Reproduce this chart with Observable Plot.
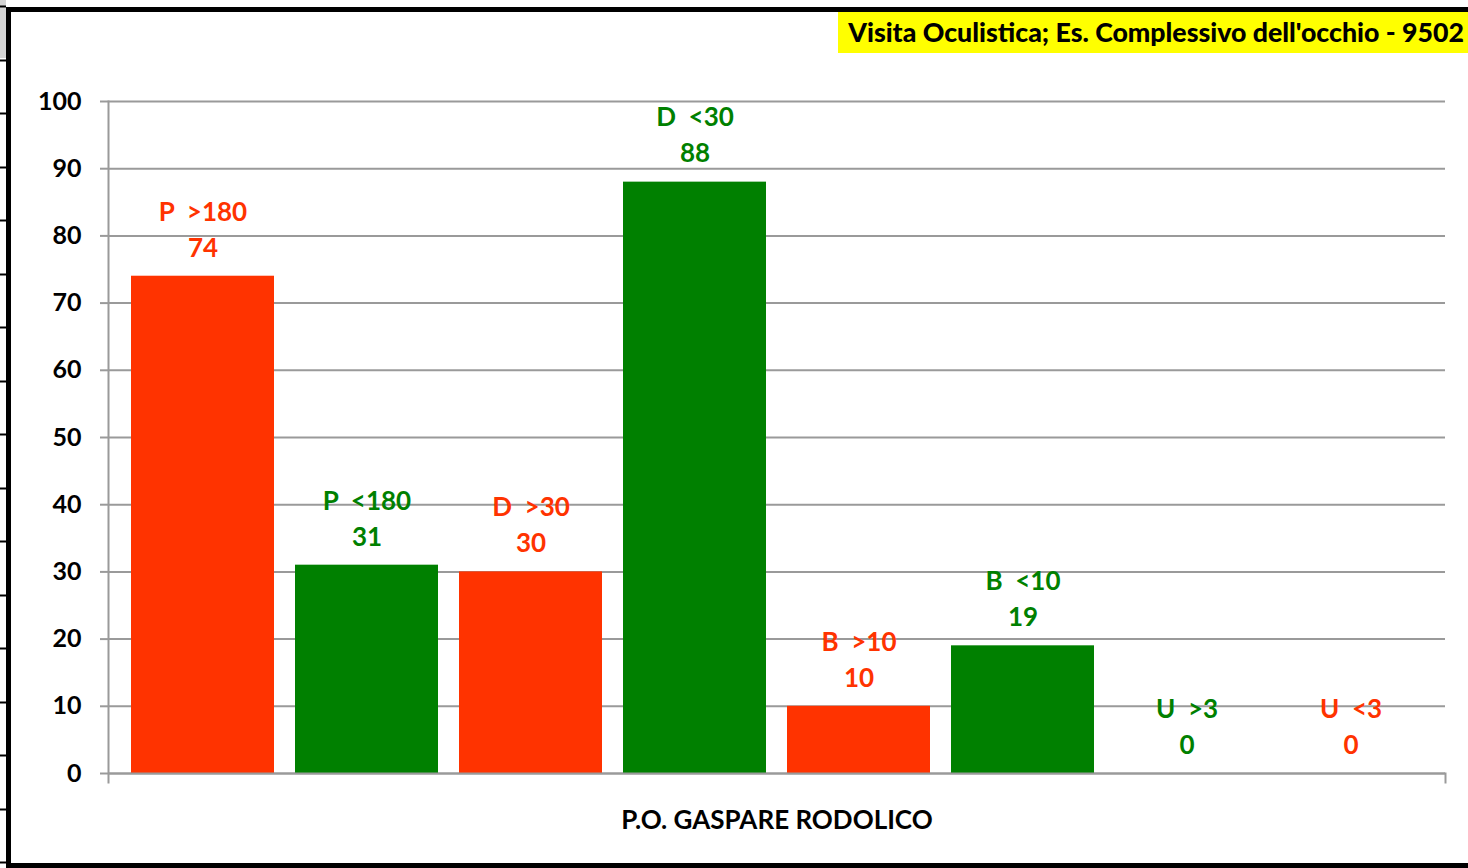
<!DOCTYPE html>
<html>
<head>
<meta charset="utf-8">
<script src="https://cdn.jsdelivr.net/npm/d3@7"></script>
<script src="https://cdn.jsdelivr.net/npm/@observablehq/plot@0.6"></script>
<style>
  html, body { margin: 0; padding: 0; background: #fff; overflow: hidden; }
  #wrap { position: relative; width: 1468px; height: 868px; overflow: hidden; font-family: Lato, sans-serif; }
  #chart { position: absolute; left: 0; top: 0; }
  #chart svg text, #chart svg tspan { white-space: pre; }
  #head { position: absolute; left: 0; top: 0; width: 6px; height: 58px; background: #d4d4d4; }
  #strip { position: absolute; left: 0; top: 0; width: 6px; height: 868px;
    background: repeating-linear-gradient(to bottom, #000 0px, #000 2px, transparent 2px, transparent 53.5px);
    background-position: 0 5.5px; }
  #border { position: absolute; left: 6px; top: 7px; width: 1470px; height: 861px; box-sizing: border-box;
    border: 5px solid #000; border-right: none; pointer-events: none; }
  #title { position: absolute; left: 838px; top: 12px; width: 630px; height: 41px; background: #ffff00;
    font: 900 26.7px Lato, sans-serif; color: #000; text-align: right; line-height: 41px;
    padding-right: 4px; box-sizing: border-box; white-space: nowrap; }
</style>
</head>
<body>
<div id="wrap">
  <div id="chart"></div>
  <div id="head"></div>
  <div id="strip"></div>
  <div id="border"></div>
  <div id="title"></div>
</div>
<script>
const titleText = "Visita Oculistica; Es. Complessivo dell'occhio - 9502";
const caption = "P.O. GASPARE RODOLICO";
const categories = ["P  >180", "P  <180", "D  >30", "D  <30", "B  >10", "B  <10", "U  >3", "U  <3"];
const values = [74, 31, 30, 88, 10, 19, 0, 0];
const statuses = ["late", "ok", "late", "ok", "late", "ok", "ok", "late"];
const yTicks = [0, 10, 20, 30, 40, 50, 60, 70, 80, 90, 100];

const data = categories.map((c, i) => ({cat: c, value: values[i], status: statuses[i]}));
document.getElementById("title").textContent = titleText;

const gray = "#9a9a9a";
const chart = Plot.plot({
  width: 1468,
  height: 868,
  marginLeft: 108,
  marginRight: 23,
  marginTop: 101,
  marginBottom: 95,
  style: {fontFamily: "Lato, sans-serif", fontSize: "25px", fontWeight: "bold", background: "transparent", color: "#000"},
  x: {domain: categories, padding: 0.13, axis: null},
  y: {domain: [0, 100]},
  color: {domain: ["late", "ok"], range: ["#ff3300", "#008000"]},
  marks: [
    Plot.gridY(yTicks, {stroke: gray, strokeOpacity: 1, strokeWidth: 2}),
    Plot.axisY(yTicks, {tickSize: 8, tickPadding: 19, stroke: gray, strokeWidth: 2, fill: "#000", label: null, fontSize: 25, fontWeight: "bold"}),
    Plot.barY(data, {x: "cat", y: "value", fill: "status"}),
    Plot.ruleY([0], {stroke: gray, strokeWidth: 2}),
    Plot.frame({anchor: "left", stroke: gray, strokeWidth: 2, insetBottom: -9}),
    Plot.frame({anchor: "right", stroke: gray, strokeWidth: 2, insetTop: 672, insetBottom: -9}),
    Plot.text(data, {x: "cat", y: "value", text: d => String(d.value), fill: "status", dy: -28, fontSize: 26, fontWeight: "bold"}),
    Plot.text(data, {x: "cat", y: "value", text: "cat", fill: "status", dy: -64, fontSize: 26, fontWeight: "bold"}),
    Plot.text([caption], {frameAnchor: "bottom", lineAnchor: "middle", dy: 47, fill: "#000", fontSize: 26, fontWeight: "bold"})
  ]
});
document.getElementById("chart").appendChild(chart);
</script>
</body>
</html>
